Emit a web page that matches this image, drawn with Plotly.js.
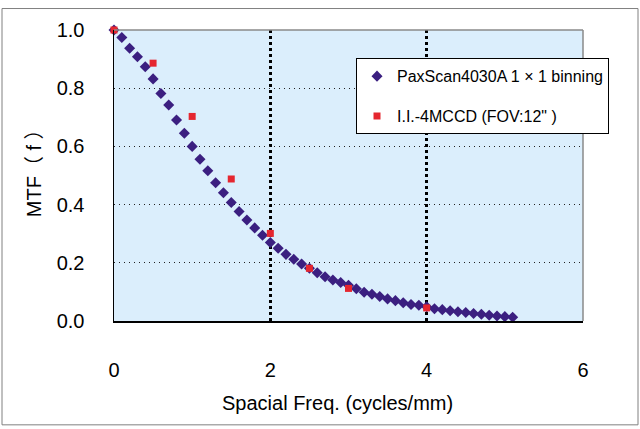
<!DOCTYPE html>
<html>
<head>
<meta charset="utf-8">
<script src="https://cdn.plot.ly/plotly-3.0.1.min.js"></script>
<style>
html,body{margin:0;padding:0;background:#fff;}
#chart{width:640px;height:429px;}
</style>
</head>
<body>
<div id="chart"></div>
<script>
// PaxScan4030A 1x1 binning
var paxFreq = [0.0,0.1,0.2,0.3,0.4,0.5,0.6,0.7,0.8,0.9,1.0,1.1,1.2,1.3,1.4,1.5,1.6,1.7,1.8,1.9,2.0,2.1,2.2,2.3,2.4,2.5,2.6,2.7,2.8,2.9,3.0,3.1,3.2,3.3,3.4,3.5,3.6,3.7,3.8,3.9,4.0,4.1,4.2,4.3,4.4,4.5,4.6,4.7,4.8,4.9,5.0,5.1];
var paxMTF  = [1.000,0.974,0.937,0.908,0.874,0.832,0.782,0.742,0.691,0.645,0.600,0.556,0.516,0.475,0.441,0.407,0.376,0.347,0.320,0.295,0.270,0.250,0.229,0.212,0.196,0.181,0.166,0.152,0.141,0.132,0.123,0.111,0.099,0.092,0.084,0.076,0.070,0.063,0.057,0.054,0.049,0.042,0.039,0.035,0.032,0.029,0.026,0.023,0.020,0.017,0.015,0.013];
// I.I.-4MCCD (FOV:12")
var iiFreq = [0.0,0.5,1.0,1.5,2.0,2.5,3.0,4.0];
var iiMTF  = [1.000,0.886,0.703,0.488,0.301,0.181,0.112,0.045];

var seriesNames = ['PaxScan4030A 1 \u00d7 1 binning', 'I.I.-4MCCD (FOV:12" )'];
var xTicks = [0,2,4,6];
var yTicks = [0.0,0.2,0.4,0.6,0.8,1.0];

var FONT = 'Liberation Sans, Arial, "Noto Sans CJK JP", sans-serif';

var traces = [
  {x: paxFreq, y: paxMTF, type:'scatter', mode:'markers', name: seriesNames[0],
   legendgroup:'a', cliponaxis:false,
   marker:{symbol:'diamond', size:8.5, color:'#3b1f80'}},
  {x: iiFreq, y: iiMTF, type:'scatter', mode:'markers', name: seriesNames[1],
   legendgroup:'b', cliponaxis:false,
   marker:{symbol:'square', size:7, color:'#e5262f'}}
];

var layout = {
  width:640, height:429,
  margin:{l:114, r:57, t:29.5, b:108, pad:0},
  paper_bgcolor:'#ffffff',
  plot_bgcolor:'#dbeefc',
  font:{family:FONT, color:'#000', size:20},
  showlegend:true,
  legend:{x:0.516, y:0.903, xanchor:'left', yanchor:'top',
          bgcolor:'#ffffff', bordercolor:'#000', borderwidth:1,
          font:{family:FONT, size:16, color:'#000'},
          traceorder:'grouped', tracegroupgap:16},
  xaxis:{range:[0,6], tickvals:xTicks, ticktext:xTicks.map(String),
         showgrid:true, gridcolor:'#000', griddash:'dot', gridwidth:2.5,
         showline:true, linecolor:'#000', linewidth:1.5, zeroline:false,
         ticks:'', ticklabelstandoff:30, tickfont:{size:20}},
  yaxis:{range:[0,1], tickvals:yTicks, ticktext:yTicks.map(function(v){return v.toFixed(1);}),
         showgrid:true, gridcolor:'#222', griddash:'1px,4px', gridwidth:1,
         showline:true, linecolor:'#000', linewidth:1.5, zeroline:false,
         ticks:'', ticklabelstandoff:24, tickfont:{size:20}},
  shapes:[
    {type:'rect', xref:'paper', yref:'paper', x0:-0.2388, x1:1.1173, y0:-0.3568, y1:1.0738,
     line:{color:'#808080', width:1}, layer:'below'},
    {type:'line', xref:'paper', yref:'paper', x0:0, x1:1, y0:1, y1:1,
     line:{color:'#8a8a8a', width:1.5}},
    {type:'line', xref:'paper', yref:'paper', x0:1, x1:1, y0:0, y1:1,
     line:{color:'#8a8a8a', width:1.5}}
  ],
  annotations:[
    {text:'Spacial Freq. (cycles/mm)', xref:'paper', yref:'paper', x:0.4776, y:-0.2813,
     xanchor:'center', yanchor:'middle', showarrow:false, font:{size:20}},
    {text:'MTF\uff08 f \uff09', xref:'paper', yref:'paper', x:-0.1706, y:0.525,
     xanchor:'center', yanchor:'middle', showarrow:false, textangle:-90, font:{size:20}}
  ]
};

Plotly.newPlot('chart', traces, layout, {displayModeBar:false, staticPlot:true});
</script>
</body>
</html>
